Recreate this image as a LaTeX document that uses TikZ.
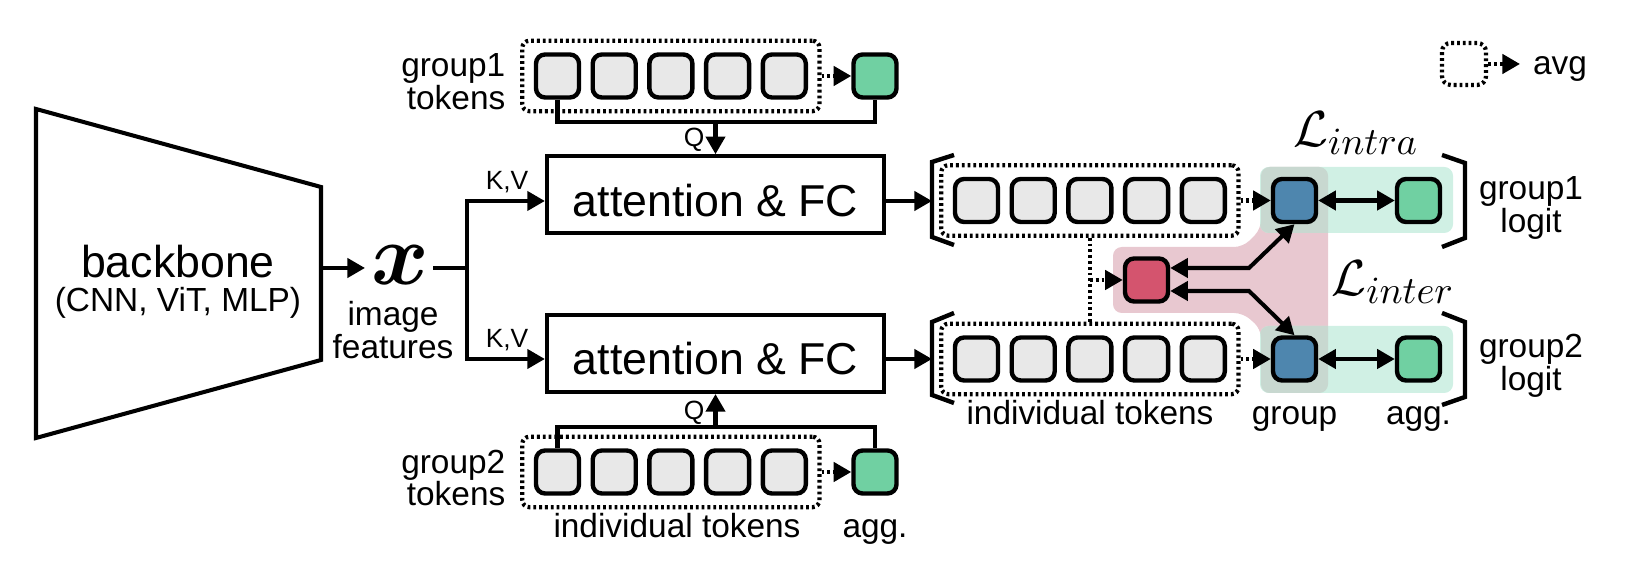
\documentclass[tikz,border=0pt]{standalone}
\usepackage{amsmath}
\usepackage{fontspec}
\setmainfont{Liberation Sans}
\usetikzlibrary{arrows.meta,fit}
\definecolor{tokgray}{RGB}{232,232,232}
\definecolor{tokgreen}{RGB}{112,208,162}
\definecolor{tokblue}{RGB}{78,134,174}
\definecolor{tokred}{RGB}{212,84,110}
\definecolor{bgpink}{RGB}{232,200,208}
\definecolor{bggreen}{RGB}{208,240,228}
\definecolor{bgover}{RGB}{200,216,208}
\begin{document}
\begin{tikzpicture}[x=0.01cm,y=-0.01cm,
  lw/.style={line width=1.15pt},
  tipA/.style={-{Triangle[width=5.4pt,length=5pt]}},
  dbl/.style={{Triangle[width=5.4pt,length=5pt]}-{Triangle[width=5.4pt,length=5pt]}},
  dots/.style={line width=1.2pt,dash pattern=on 0.8pt off 0.85pt},
  tok/.style={draw,line width=1.25pt,rounded corners=2.6pt,minimum size=0.43cm,inner sep=0pt},
  gtok/.style={tok,fill=tokgray},
  atok/.style={tok,fill=tokgreen},
  btok/.style={tok,fill=tokblue},
  rtok/.style={tok,fill=tokred},
  dbox/.style={draw,dots,rounded corners=2pt,inner sep=0.115cm},
  attbox/.style={draw,lw,minimum width=3.37cm,minimum height=0.765cm,inner sep=0pt},
  big/.style={font=\fontsize{12.7}{15}\selectfont,inner sep=0pt},
  lbl/.style={font=\fontsize{9.5}{9.3}\selectfont,inner sep=0pt},
  sml/.style={font=\fontsize{7.5}{8}\selectfont,inner sep=0pt},
  brk/.style={line width=1.25pt},
]
\useasboundingbox (0,0) rectangle (1634,568);

% backgrounds
\fill[bgpink,rounded corners=2.5pt] (1113,247) -- (1243,247) -- (1261,229) -- (1261,167) -- (1328,167) -- (1328,393) -- (1261,393) -- (1261,329) -- (1243,313) -- (1113,313) -- cycle;
\fill[bggreen,rounded corners=2.5pt] (1260,167) rectangle (1453,233);
\fill[bggreen,rounded corners=2.5pt] (1260,326) rectangle (1453,393);
\begin{scope}
\clip[rounded corners=2.5pt] (1113,247) -- (1243,247) -- (1261,229) -- (1261,167) -- (1328,167) -- (1328,393) -- (1261,393) -- (1261,329) -- (1243,313) -- (1113,313) -- cycle;
\fill[bgover,rounded corners=2.5pt] (1260,167) rectangle (1453,233);
\fill[bgover,rounded corners=2.5pt] (1260,326) rectangle (1453,393);
\end{scope}

% backbone
\draw[lw] (36,109) -- (321,187) -- (321,360) -- (36,438) -- cycle;
\node[big,anchor=base] (bb) at (178,278) {backbone};
\node[lbl,anchor=base] (bbsub) at (178,312) {(CNN, ViT, MLP)};
\coordinate (bbR) at (321,268);
\node[anchor=base,inner sep=0pt,font=\fontsize{24}{24}\selectfont] (xs) at (400,285) {$\boldsymbol{x}$};
\node[lbl,align=center] (imf) at (393,330) {image\\features};
\coordinate (xin) at (365,268);
\coordinate (xout) at (433,268);
\coordinate (jn) at (467,268);
\draw[lw,tipA] (bbR) -- (xin);
\draw[lw] (xout) -- (jn);

% attention boxes
\node[attbox] (att1) at (715.5,194.5) {};
\node[attbox,minimum height=0.77cm] (att2) at (715.5,353.5) {};
\node[big] (att1t) at (715.5,201) {attention \& FC};
\node[big] (att2t) at (715.5,359) {attention \& FC};
\coordinate (r1) at (0,201);
\coordinate (r2) at (0,359);
\draw[lw,tipA] (jn) |- (att1.west |- r1);
\draw[lw,tipA] (jn) |- (att2.west |- r2);
\node[sml] (kv1) at (507,182) {K,V};
\node[sml] (kv2) at (507,340) {K,V};

% group1 tokens
\foreach \i in {1,...,5} \node[gtok] (a\i) at ({557.5+56.7*(\i-1)},76) {};
\node[atok] (aagg) at (875,76) {};
\node[dbox,fit=(a1)(a5)] (abox) {};
\draw[dots,tipA] (abox.east) -- (aagg.west);
\coordinate (q1) at (0,122);
\draw[lw] (a1.south) |- (aagg.south |- q1) -- (aagg.south);
\draw[lw,tipA] (att1.north |- q1) -- (att1.north);
\node[sml] (qa) at (694,140) {Q};
\node[lbl,align=right,anchor=east] (g1lab) at (506,82) {group1\\tokens};

% group2 tokens
\foreach \i in {1,...,5} \node[gtok] (b\i) at ({557.5+56.7*(\i-1)},472) {};
\node[atok] (bagg) at (875,472) {};
\node[dbox,fit=(b1)(b5)] (bdbox) {};
\draw[dots,tipA] (bdbox.east) -- (bagg.west);
\coordinate (q2) at (0,427);
\draw[lw] (b1.north) |- (bagg.north |- q2) -- (bagg.north);
\draw[lw,tipA] (att2.south |- q2) -- (att2.south);
\node[sml] (qb) at (694,413) {Q};
\node[lbl,align=right,anchor=east] (g2lab) at (506,478) {group2\\tokens};
\node[lbl,anchor=base] (indL) at (677,538) {individual tokens};
\node[lbl,anchor=base] (aggL) at (875,538) {agg.};

% output rows
\foreach \i in {1,...,5} \node[gtok] (c\i) at ({976.5+56.7*(\i-1)},200.5) {};
\node[dbox,fit=(c1)(c5)] (cbox) {};
\foreach \i in {1,...,5} \node[gtok] (d\i) at ({976.5+56.7*(\i-1)},359) {};
\node[dbox,fit=(d1)(d5)] (ddbox) {};
\node[btok] (gb1) at (1294.5,200.5) {};
\node[atok] (ga1) at (1418.5,200.5) {};
\node[btok] (gb2) at (1294.5,359) {};
\node[atok] (ga2) at (1418.5,359) {};
\node[rtok] (rd) at (1146.5,280) {};
\draw[dots,tipA] (cbox.east) -- (gb1.west);
\draw[dots,tipA] (ddbox.east) -- (gb2.west);
\draw[lw,dbl] (gb1.east) -- (ga1.west);
\draw[lw,dbl] (gb2.east) -- (ga2.west);
\draw[dots] (cbox.south -| c3) -- (ddbox.north -| c3);
\draw[dots,tipA] (c3 |- rd) -- (rd.west);
\coordinate (k1) at (1249,268);
\coordinate (k2) at (1249,291);
\draw[lw,dbl] (gb1.south) -- (k1) -- (k1 -| rd.east);
\draw[lw,dbl] (gb2.north) -- (k2) -- (k2 -| rd.east);

% arrows to brackets
\coordinate (br1) at (932,201);
\coordinate (br2) at (932,359);
\draw[lw,tipA] (att1.east |- r1) -- (br1);
\draw[lw,tipA] (att2.east |- r2) -- (br2);

% brackets
\draw[brk] (954,155) -- (932,162) -- (932,237) -- (954,245);
\draw[brk] (954,313) -- (932,322) -- (932,395) -- (954,403);
\draw[brk] (1442,155) -- (1465,163) -- (1465,238) -- (1442,247);
\draw[brk] (1442,313) -- (1465,322) -- (1465,397) -- (1442,405);

% labels
\node[lbl,align=center] (l1) at (1531,208) {group1\\logit};
\node[lbl,align=center] (l2) at (1531,366) {group2\\logit};
\node[lbl,anchor=base] (indR) at (1090,425) {individual tokens};
\node[lbl,anchor=base] (grpR) at (1294.5,425) {group};
\node[lbl,anchor=base] (aggR) at (1418.5,425) {agg.};
\node[anchor=base,inner sep=0pt,font=\fontsize{15}{15}\selectfont] (Lin) at (1356,147) {$\mathcal{L}_{intra}$};
\node[anchor=base,inner sep=0pt,font=\fontsize{15}{15}\selectfont] (Lex) at (1393,296) {$\mathcal{L}_{inter}$};

% legend
\node[draw,dots,rounded corners=2.5pt,minimum width=0.44cm,minimum height=0.42cm,inner sep=0pt] (lg) at (1464,64) {};
\coordinate (lgt) at (1520,64);
\draw[dots,tipA] (lg.east) -- (lgt);
\node[lbl,anchor=base] (avg) at (1560,75) {avg};
\end{tikzpicture}
\end{document}
